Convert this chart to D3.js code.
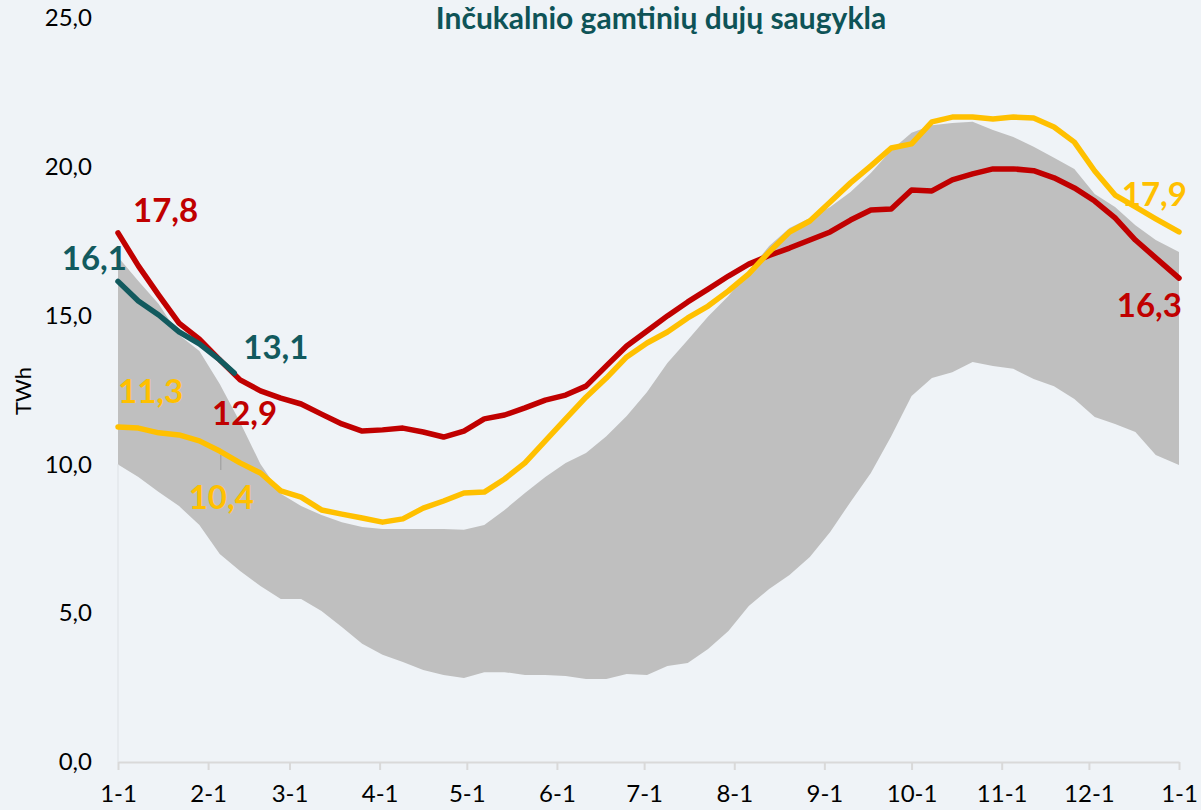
<!DOCTYPE html>
<html>
<head>
<meta charset="utf-8">
<script src="https://cdn.jsdelivr.net/npm/d3@7"></script>
<style>
  body { margin: 0; background: #eff3f7; }
  svg { display: block; }
  text { font-family: Lato, "Open Sans", sans-serif; }
</style>
</head>
<body>
<div class="chart"></div>
<script>
// day of year for each sample (weekly, last one = next 1-1)
var days = [0,7,14,21,28,35,42,49,56,63,70,77,84,91,98,105,112,119,126,133,140,147,154,161,168,175,182,189,196,203,210,217,224,231,238,245,252,259,266,273,280,287,294,301,308,315,322,329,336,343,350,357,365];

// min / max band of earlier years
var bandLow = [10.0,9.58,9.07,8.60,7.96,6.99,6.42,5.91,5.48,5.48,5.07,4.54,3.97,3.60,3.36,3.09,2.92,2.82,3.02,3.02,2.92,2.92,2.89,2.79,2.79,2.96,2.92,3.23,3.33,3.80,4.40,5.24,5.81,6.28,6.89,7.73,8.74,9.71,10.95,12.30,12.90,13.10,13.44,13.31,13.21,12.87,12.63,12.20,11.59,11.36,11.09,10.32,9.98];
var bandHigh = [16.97,16.16,15.39,14.35,13.81,12.70,11.42,10.01,9.01,8.60,8.30,8.06,7.90,7.83,7.83,7.83,7.83,7.80,7.96,8.47,9.04,9.58,10.05,10.38,10.95,11.63,12.43,13.41,14.18,14.97,15.66,16.50,17.34,17.94,18.28,18.65,19.15,19.79,20.56,21.14,21.40,21.47,21.51,21.24,21.00,20.67,20.30,19.93,19.09,18.65,18.04,17.54,17.14];

var redValues = [17.78,16.67,15.69,14.75,14.21,13.51,12.84,12.47,12.23,12.03,11.69,11.36,11.12,11.16,11.22,11.09,10.92,11.12,11.53,11.66,11.90,12.16,12.33,12.63,13.31,13.98,14.48,14.99,15.46,15.89,16.33,16.73,17.02,17.27,17.54,17.81,18.21,18.55,18.58,19.22,19.19,19.56,19.76,19.93,19.93,19.87,19.63,19.29,18.85,18.28,17.54,16.94,16.26];
var yellowValues = [11.26,11.22,11.06,10.99,10.79,10.45,10.05,9.71,9.11,8.90,8.47,8.33,8.20,8.06,8.17,8.53,8.77,9.04,9.07,9.51,10.05,10.79,11.53,12.26,12.90,13.61,14.08,14.45,14.92,15.32,15.83,16.40,17.14,17.81,18.18,18.82,19.46,20.03,20.63,20.77,21.51,21.67,21.67,21.61,21.67,21.64,21.34,20.83,19.86,19.05,18.65,18.25,17.81];

var tealDays = [0,7,14,21,28,35,40];
var tealValues = [16.15,15.49,15.02,14.45,14.05,13.51,13.07];

var monthDays = [0,31,59,90,120,151,181,212,243,273,304,334,365];
var monthLabels = ["1-1","2-1","3-1","4-1","5-1","6-1","7-1","8-1","9-1","10-1","11-1","12-1","1-1"];
var yTicks = [0,5,10,15,20,25];

var title = "Inčukalnio gamtinių dujų saugykla";

var w = 1201, h = 810;

var svg = d3.select("div.chart")
            .append("svg")
            .attr("width", w)
            .attr("height", h);

var x = d3.scaleLinear().domain([0,365]).range([118,1179]);
var y = d3.scaleLinear().domain([0,25]).range([762,18]);

//band
var band = d3.area()
    .x(function(d, i){ return x(days[i]); })
    .y0(function(d, i){ return y(bandLow[i]); })
    .y1(function(d, i){ return y(bandHigh[i]); });

svg.append("path")
   .datum(days)
   .attr("d", band)
   .attr("fill", "#bfbfbf");

// left edge line under the band
svg.append("line")
   .attr("x1", x(0)).attr("x2", x(0))
   .attr("y1", y(bandLow[0])).attr("y2", y(0))
   .attr("stroke", "#dde1e5")
   .attr("stroke-width", 1);

//axes
var xAxis = svg.append("g")
   .attr("transform", "translate(0," + y(0) + ")")
   .call(d3.axisBottom(x)
      .tickValues(monthDays)
      .tickFormat(function(d, i){ return monthLabels[i]; })
      .tickSize(8)
      .tickSizeOuter(0)
      .tickPadding(15));
xAxis.select(".domain").attr("stroke", "#d9d9d9").attr("stroke-width", 2);
xAxis.selectAll(".tick line").attr("stroke", "#d9d9d9").attr("stroke-width", 2);
xAxis.selectAll("text")
   .attr("font-family", "Lato")
   .attr("font-size", 24)
   .attr("fill", "#000");

var yAxis = svg.append("g")
   .attr("transform", "translate(" + x(0) + ",0)")
   .call(d3.axisLeft(y)
      .tickValues(yTicks)
      .tickFormat(function(d){ return d3.format(".1f")(d).replace(".", ","); })
      .tickSize(0)
      .tickPadding(26));
yAxis.select(".domain").remove();
yAxis.selectAll("text")
   .attr("font-family", "Lato")
   .attr("font-size", 24)
   .attr("fill", "#000");

svg.append("text")
   .attr("transform", "translate(31,391) rotate(-90)")
   .attr("text-anchor", "middle")
   .attr("font-size", 22)
   .attr("fill", "#000")
   .text("TWh");

//lines
var line = d3.line()
    .x(function(d){ return x(d[0]); })
    .y(function(d){ return y(d[1]); });

function pairs(xs, vs){
  return xs.map(function(d, i){ return [d, vs[i]]; });
}

var series = [
  {name: "red", color: "#c00000", data: pairs(days, redValues)},
  {name: "yellow", color: "#ffc000", data: pairs(days, yellowValues)},
  {name: "teal", color: "#125a5e", data: pairs(tealDays, tealValues)}
];

svg.selectAll(".series")
   .data(series)
   .enter()
   .append("path")
   .attr("class", "series")
   .attr("d", function(d){ return line(d.data); })
   .attr("fill", "none")
   .attr("stroke", function(d){ return d.color; })
   .attr("stroke-width", 5.5)
   .attr("stroke-linejoin", "round")
   .attr("stroke-linecap", "round");

// small leader mark under the 10,4 label
svg.append("line")
   .attr("x1", x(days[5]) + 1).attr("x2", x(days[5]) + 1)
   .attr("y1", y(yellowValues[5]) + 4).attr("y2", y(yellowValues[5]) + 19)
   .attr("stroke", "#a6a6a6")
   .attr("stroke-width", 1.5);

//value labels
var labels = [
  {s: 0, i: 0, text: "17,8", dx: 15, dy: -11, anchor: "start"},
  {s: 2, i: 0, text: "16,1", dx: 9, dy: -11, anchor: "end"},
  {s: 2, i: 6, text: "13,1", dx: 9, dy: -14, anchor: "start"},
  {s: 1, i: 0, text: "11,3", dx: 0, dy: -24, anchor: "start"},
  {s: 0, i: 6, text: "12,9", dx: -28, dy: 45, anchor: "start"},
  {s: 1, i: 5, text: "10,4", dx: -31, dy: 58, anchor: "start"},
  {s: 1, i: 52, text: "17,9", dx: 8, dy: -26, anchor: "end"},
  {s: 0, i: 52, text: "16,3", dx: 3, dy: 39, anchor: "end"}
];

svg.selectAll(".vlabel")
   .data(labels)
   .enter()
   .append("text")
   .attr("class", "vlabel")
   .attr("x", function(d){ return x(series[d.s].data[d.i][0]) + d.dx; })
   .attr("y", function(d){ return y(series[d.s].data[d.i][1]) + d.dy; })
   .attr("text-anchor", function(d){ return d.anchor; })
   .attr("font-size", 33)
   .attr("font-weight", "bold")
   .attr("fill", function(d){ return series[d.s].color; })
   .text(function(d){ return d.text; });

//title
svg.append("text")
   .attr("x", 661)
   .attr("y", 29)
   .attr("text-anchor", "middle")
   .attr("font-size", 30)
   .attr("font-weight", "bold")
   .attr("fill", "#0e5357")
   .text(title);
</script>
</body>
</html>
